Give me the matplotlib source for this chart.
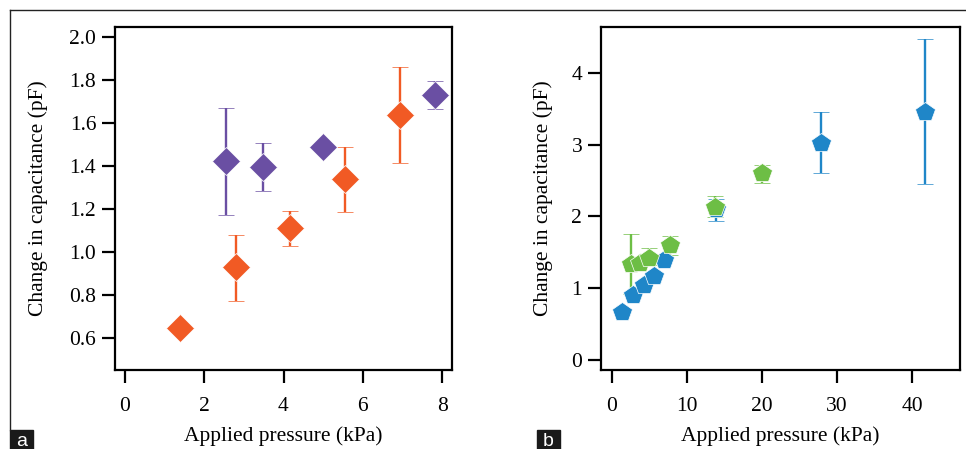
import numpy as np
import matplotlib.pyplot as plt
from matplotlib.lines import Line2D
from matplotlib.patches import Rectangle

plt.rcParams["font.family"] = ["Liberation Serif", "DejaVu Serif"]

# panel a
orange_x = [1.39, 2.79, 4.17, 5.56, 6.94]
orange_y = [0.645, 0.927, 1.108, 1.337, 1.637]
orange_lo = [0.645, 0.773, 1.027, 1.185, 1.414]
orange_hi = [0.645, 1.078, 1.189, 1.489, 1.860]

purple_x = [2.56, 3.48, 4.99, 7.83]
purple_y = [1.422, 1.396, 1.487, 1.729]
purple_lo = [1.170, 1.283, 1.470, 1.662]
purple_hi = [1.670, 1.505, 1.500, 1.795]

# panel b
blue_x = [1.37, 2.8, 4.27, 5.64, 7.02, 13.9, 27.8, 41.7]
blue_y = [0.664, 0.905, 1.045, 1.17, 1.40, 2.11, 3.027, 3.46]
blue_lo = [0.664, 0.905, 1.045, 1.17, 1.40, 1.94, 2.60, 2.447]
blue_hi = [0.664, 0.905, 1.045, 1.17, 1.40, 2.25, 3.45, 4.47]

green_x = [2.6, 3.7, 5.0, 7.75, 13.8, 19.95]
green_y = [1.34, 1.35, 1.42, 1.60, 2.135, 2.60]
green_lo = [0.92, 1.35, 1.32, 1.47, 1.99, 2.46]
green_hi = [1.755, 1.35, 1.556, 1.73, 2.28, 2.716]

orange = "#F15A24"
purple = "#6A4FA3"
blue = "#1F86C8"
green = "#6DBE45"

fig = plt.figure(figsize=(9.66, 4.49), dpi=100)
W, H = 966, 449


def box(l, t, r, b):
    return [l / W, 1 - b / H, (r - l) / W, (b - t) / H]


def style(ax, ypad):
    for s in ax.spines.values():
        s.set_linewidth(1.6)
    ax.tick_params(axis="both", direction="out", length=9.5, width=1.6,
                   labelsize=15.5, color="black")
    ax.tick_params(axis="y", pad=4)
    ax.tick_params(axis="x", pad=10)
    ax.set_xlabel("Applied pressure (kPa)", fontsize=15.5, labelpad=7)
    ax.set_ylabel("Change in capacitance (pF)", fontsize=15.5, labelpad=ypad)


def err(x, y, lo, hi):
    return [np.array(y) - np.array(lo), np.array(hi) - np.array(y)]


kw = dict(elinewidth=1.7, capsize=6, capthick=1.7, mec="white", mew=0.5)

ax1 = fig.add_axes(box(115, 27, 452, 370))
ax1.errorbar(orange_x, orange_y, yerr=err(orange_x, orange_y, orange_lo, orange_hi),
             fmt="D", ms=14, color=orange, ecolor=orange, **kw)
ax1.errorbar(purple_x, purple_y, yerr=err(purple_x, purple_y, purple_lo, purple_hi),
             fmt="D", ms=14, color=purple, ecolor=purple, **kw)
ax1.set_xlim(-0.25, 8.25)
ax1.set_ylim(0.45, 2.045)
ax1.set_xticks([0, 2, 4, 6, 8])
ax1.set_yticks([0.6, 0.8, 1.0, 1.2, 1.4, 1.6, 1.8, 2.0])
ax1.set_yticklabels(["0.6", "0.8", "1.0", "1.2", "1.4", "1.6", "1.8", "2.0"])
style(ax1, 15)

ax2 = fig.add_axes(box(601, 27, 960, 370))
ax2.errorbar(blue_x, blue_y, yerr=err(blue_x, blue_y, blue_lo, blue_hi),
             fmt="p", ms=15, color=blue, ecolor=blue, **kw)
ax2.errorbar(green_x, green_y, yerr=err(green_x, green_y, green_lo, green_hi),
             fmt="p", ms=15, color=green, ecolor=green, **kw)
ax2.set_xlim(-1.43, 46.36)
ax2.set_ylim(-0.139, 4.64)
ax2.set_xticks([0, 10, 20, 30, 40])
ax2.set_yticks([0, 1, 2, 3, 4])
style(ax2, 13)

# outer frame lines and panel labels
fig.add_artist(Line2D([10 / W, 1], [1 - 10 / H, 1 - 10 / H], color="#222222", lw=1.0))
fig.add_artist(Line2D([10 / W, 10 / W], [1 - 10 / H, 1 - 430 / H], color="#222222", lw=1.0))
for x0, lab in [(10, "a"), (537, "b")]:
    fig.add_artist(Rectangle((x0 / W, 0), 23 / W, 19 / H, color="#1a1a1a",
                             transform=fig.transFigure))
    fig.text((x0 + 11.5) / W, 3 / H, lab, color="white", fontsize=14,
             family="Liberation Sans", ha="center", va="baseline")

fig.savefig("out.png", dpi=100)
